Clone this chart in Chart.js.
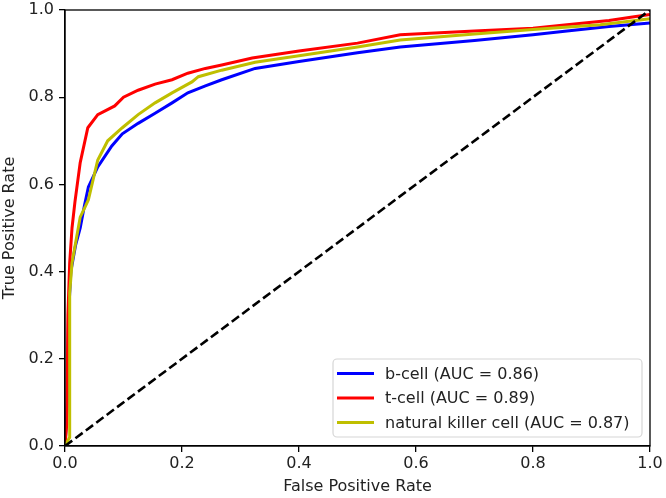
<!DOCTYPE html>
<html>
<head>
<meta charset="utf-8">
<script src="https://cdn.jsdelivr.net/npm/chart.js@4.4.0/dist/chart.umd.min.js"></script>
<style>
  html, body { margin: 0; padding: 0; background: #fff; }
  #wrap { width: 666px; height: 498px; }
</style>
</head>
<body>
<div id="wrap"><canvas id="myChart" width="666" height="498"></canvas></div>
<script>
// ROC curves: [false positive rate, true positive rate]
var labels = ['b-cell (AUC = 0.86)', 't-cell (AUC = 0.89)', 'natural killer cell (AUC = 0.87)'];
var colors = ['#0000ff', '#ff0000', '#bfbf00'];
var tickValues = [0, 0.2, 0.4, 0.6, 0.8, 1.0];

var bcell = [[0,0],[0.004,0.1],[0.006,0.3],[0.01,0.4],[0.018,0.46],[0.026,0.5],[0.033,0.55],
  [0.04,0.594],[0.056,0.64],[0.08,0.688],[0.098,0.716],[0.125,0.74],[0.154,0.763],[0.183,0.787],
  [0.21,0.81],[0.24,0.826],[0.268,0.84],[0.325,0.866],[0.4,0.882],[0.5,0.902],[0.573,0.915],
  [0.7,0.93],[0.8,0.943],[0.858,0.952],[0.93,0.962],[1,0.97]];
var tcell = [[0,0],[0.003,0.05],[0.005,0.3],[0.008,0.42],[0.012,0.5],[0.017,0.56],[0.026,0.65],
  [0.039,0.73],[0.056,0.76],[0.085,0.78],[0.1,0.8],[0.125,0.816],[0.154,0.83],[0.183,0.84],
  [0.21,0.855],[0.24,0.866],[0.268,0.874],[0.32,0.89],[0.4,0.906],[0.5,0.924],[0.573,0.943],
  [0.7,0.952],[0.8,0.958],[0.858,0.966],[0.93,0.976],[0.97,0.984],[1,0.99]];
var nkcell = [[0,0],[0.008,0.02],[0.008,0.35],[0.012,0.42],[0.02,0.48],[0.026,0.525],[0.035,0.55],
  [0.04,0.565],[0.056,0.656],[0.073,0.7],[0.098,0.73],[0.125,0.76],[0.154,0.787],[0.183,0.81],
  [0.217,0.835],[0.228,0.847],[0.268,0.862],[0.325,0.88],[0.4,0.895],[0.5,0.915],[0.573,0.931],
  [0.7,0.945],[0.8,0.955],[0.915,0.966],[1,0.98]];
var chance = [[0,0],[1,1]];

function pts(arr) { return arr.map(function(p) { return {x: p[0], y: p[1]}; }); }

var FONT = 'DejaVu Sans';
var TXT = '#222';

// box around the plot + legend in the lower right corner
var framePlugin = {
  id: 'frame',
  afterDatasetsDraw: function(chart) {
    var a = chart.chartArea, ctx = chart.ctx;
    ctx.save();
    ctx.strokeStyle = '#000';
    ctx.lineWidth = 1.3;
    ctx.strokeRect(a.left, a.top, a.right - a.left, a.bottom - a.top);

    var bx = 333, by = 359, bw = 309, bh = 78, r = 4;
    ctx.fillStyle = 'rgba(255,255,255,0.85)';
    ctx.strokeStyle = '#d6d6d6';
    ctx.lineWidth = 1.2;
    ctx.beginPath();
    ctx.moveTo(bx + r, by);
    ctx.arcTo(bx + bw, by, bx + bw, by + bh, r);
    ctx.arcTo(bx + bw, by + bh, bx, by + bh, r);
    ctx.arcTo(bx, by + bh, bx, by, r);
    ctx.arcTo(bx, by, bx + bw, by, r);
    ctx.closePath();
    ctx.fill();
    ctx.stroke();

    ctx.font = '16px "' + FONT + '"';
    ctx.textBaseline = 'middle';
    for (var i = 0; i < labels.length; i++) {
      var yy = 373.5 + i * 24.5;
      ctx.strokeStyle = colors[i];
      ctx.lineWidth = 3;
      ctx.beginPath();
      ctx.moveTo(337, yy);
      ctx.lineTo(374, yy);
      ctx.stroke();
      ctx.fillStyle = TXT;
      ctx.fillText(labels[i], 385, yy + 1);
    }
    ctx.restore();
  }
};

var ctx = document.getElementById('myChart');
var myChart = new Chart(ctx, {
  type: 'scatter',
  data: {
    datasets: [
      { label: labels[0], data: pts(bcell), borderColor: colors[0], order: 3 },
      { label: labels[1], data: pts(tcell), borderColor: colors[1], order: 2 },
      { label: labels[2], data: pts(nkcell), borderColor: colors[2], order: 1 },
      { label: 'chance', data: pts(chance), borderColor: '#000', borderDash: [9, 4], borderWidth: 2.6, order: 0 }
    ]
  },
  options: {
    responsive: false,
    animation: false,
    showLine: true,
    layout: { padding: { left: 0, right: 16, top: 10, bottom: 0 } },
    elements: {
      point: { radius: 0, hoverRadius: 0 },
      line: { borderWidth: 3, tension: 0, fill: false }
    },
    plugins: {
      legend: { display: false },
      tooltip: { enabled: false }
    },
    scales: {
      x: {
        type: 'linear', min: 0, max: 1,
        afterBuildTicks: function(s) { s.ticks = tickValues.map(function(v) { return {value: v}; }); },
        afterFit: function(s) { s.height = 52; s.paddingLeft = 0; s.paddingRight = 0; },
        grid: { display: true, drawOnChartArea: false, drawTicks: true, tickLength: 6, color: '#000', lineWidth: 1.3 },
        border: { display: true, color: '#000', width: 1.3 },
        ticks: {
          padding: 2, color: TXT, font: { family: FONT, size: 16 },
          maxRotation: 0,
          callback: function(v) { return v.toFixed(1); }
        },
        title: { display: true, text: 'False Positive Rate', color: TXT, font: { family: FONT, size: 16 }, padding: { top: 0, bottom: 2 } }
      },
      y: {
        type: 'linear', min: 0, max: 1,
        afterBuildTicks: function(s) { s.ticks = tickValues.map(function(v) { return {value: v}; }); },
        afterFit: function(s) { s.width = 65; s.paddingTop = 0; s.paddingBottom = 0; },
        grid: { display: true, drawOnChartArea: false, drawTicks: true, tickLength: 6, color: '#000', lineWidth: 1.3 },
        border: { display: true, color: '#000', width: 1.3 },
        ticks: {
          padding: 5, color: TXT, font: { family: FONT, size: 16 },
          callback: function(v) { return v.toFixed(1); }
        },
        title: { display: true, text: 'True Positive Rate', color: TXT, font: { family: FONT, size: 16 }, padding: { top: 0, bottom: 0 } }
      }
    }
  },
  plugins: [framePlugin]
});
</script>
</body>
</html>
